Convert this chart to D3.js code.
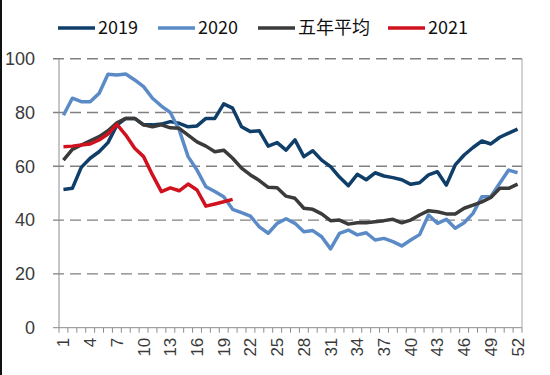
<!DOCTYPE html>
<html>
<head>
<meta charset="utf-8">
<script src="https://cdn.jsdelivr.net/npm/d3@7"></script>
<style>
  body { margin: 0; background: #fff; }
  svg { display: block; }
</style>
</head>
<body>
<div id="chart"></div>
<script>
// weeks 1..52
const weeks = d3.range(1, 53)
const xTickLabels = ['1', '4', '7', '10', '13', '16', '19', '22', '25', '28', '31', '34', '37', '40', '43', '46', '49', '52']
const yTicks = [0, 20, 40, 60, 80, 100]

const seriesNames = ['2019', '2020', '五年平均', '2021']

const values2019 = [51.4, 51.8, 59.6, 63, 65.4, 68.8, 75.3, 77.8, 77.8, 75.4, 75.4, 75.7, 76.6, 76, 74.7, 75, 77.8, 77.8, 83.2, 81.6,
  74.7, 72.9, 73.2, 67.5, 68.8, 66, 69.8, 63.6, 65.8, 62.3, 59.9, 56, 52.8, 57, 55, 57.6, 56.4, 55.8, 55, 53.3,
  53.9, 56.8, 58, 53, 60.5, 64.2, 67, 69.4, 68.3, 70.8, 72.3, 73.8]
const values2020 = [79, 85.3, 84, 84, 87.1, 94.2, 93.9, 94.3, 92.1, 89.6, 85.3, 82.4, 80, 73.5, 63.6, 58.6, 52.4, 50.6, 48.7, 44,
  42.8, 41.5, 37.5, 35.1, 38.8, 40.5, 38.8, 35.7, 36.1, 33.8, 29.3, 35.1, 36.3, 34.5, 35.3, 32.6, 33.2, 32, 30.4, 32.6,
  34.6, 41.9, 38.8, 40.3, 37, 39, 42.5, 48.7, 48.8, 53.7, 58.6, 57.6]
const valuesAvg = [62.3, 66.3, 67.9, 69.5, 71, 73.2, 76.2, 77.8, 77.8, 75.4, 74.7, 75.4, 74.3, 74.1, 71.6, 69.1, 67.5, 65.4, 66, 63,
  59.3, 56.8, 54.7, 52.2, 52, 48.9, 48.1, 44.4, 44, 42.3, 39.8, 40, 38.5, 39, 39, 39.4, 39.8, 40.3, 39, 40,
  41.9, 43.5, 43.1, 42.3, 42.3, 44.4, 45.6, 46.8, 48.4, 51.8, 51.8, 53.4]
const values2021 = [67.3, 67.5, 67.9, 68.3, 69.8, 72, 75.6, 71.6, 66.7, 63.6, 56.8, 50.6, 52, 50.9, 53.4, 51.2, 45.2, 46, 46.8, 47.7]

const seriesColors = ['#0f3e69', '#5b8bc6', '#3b3b3b', '#d0121f']
const seriesValues = [values2019, values2020, valuesAvg, values2021]

const width = 550
const height = 375
const plot = { l: 59, r: 522, t: 58.7, b: 327.7 }

const svg = d3.select('#chart').append('svg')
  .attr('width', width)
  .attr('height', height)

// black edge on the left side of the picture
svg.append('rect').attr('x', 0).attr('y', 0).attr('width', 2).attr('height', height).attr('fill', '#111')

const x = d3.scaleBand().domain(weeks).range([plot.l, plot.r]).padding(0)
const y = d3.scaleLinear().domain([0, 100]).range([plot.b, plot.t])
const cx = w => x(w) + x.bandwidth() / 2

// dashed gridlines (incl. outside tick)
svg.append('g').selectAll('line').data(yTicks.filter(d => d > 0)).enter()
  .append('line')
  .attr('x1', plot.l - 6).attr('x2', plot.r)
  .attr('y1', d => y(d)).attr('y2', d => y(d))
  .attr('stroke', '#808080')
  .attr('stroke-width', 1.4)
  .attr('stroke-dasharray', '11,6')

// y labels
svg.append('g').selectAll('text').data(yTicks).enter()
  .append('text')
  .attr('x', 35)
  .attr('y', d => y(d))
  .attr('dy', '0.35em')
  .attr('text-anchor', 'end')
  .attr('font-family', 'Liberation Sans, Arial, sans-serif')
  .attr('font-size', 18)
  .attr('fill', '#3a3a3a')
  .text(d => d)

// axes frame
svg.append('line').attr('x1', plot.l).attr('x2', plot.l).attr('y1', plot.t).attr('y2', plot.b)
  .attr('stroke', '#8c8c8c').attr('stroke-width', 1)
svg.append('line').attr('x1', plot.r).attr('x2', plot.r).attr('y1', plot.t).attr('y2', plot.b)
  .attr('stroke', '#a6a6a6').attr('stroke-width', 1)
svg.append('line').attr('x1', plot.l - 6).attr('x2', plot.r).attr('y1', y(0)).attr('y2', y(0))
  .attr('stroke', '#8c8c8c').attr('stroke-width', 1)

// x tick marks at category boundaries
const bounds = weeks.map(w => x(w)).concat([plot.r])
svg.append('g').selectAll('line').data(bounds).enter()
  .append('line')
  .attr('x1', d => d).attr('x2', d => d)
  .attr('y1', y(0)).attr('y2', y(0) + 5)
  .attr('stroke', '#8c8c8c').attr('stroke-width', 1)

// x labels (rotated)
svg.append('g').selectAll('text').data(xTickLabels).enter()
  .append('text')
  .attr('transform', d => 'translate(' + cx(+d) + ',' + (y(0) + 10) + ') rotate(-90)')
  .attr('dy', '0.35em')
  .attr('text-anchor', 'end')
  .attr('font-family', 'Liberation Sans, Arial, sans-serif')
  .attr('font-size', 17)
  .attr('fill', '#3a3a3a')
  .text(d => d)

// lines
const line = d3.line()
  .x((d, i) => cx(weeks[i]))
  .y(d => y(d))

seriesValues.forEach(function (vals, i) {
  svg.append('path')
    .datum(vals)
    .attr('d', line)
    .attr('fill', 'none')
    .attr('stroke', seriesColors[i])
    .attr('stroke-width', 3.5)
    .attr('stroke-linejoin', 'round')
})

// legend
const legendX = [58, 158, 258, 388]
const leg = svg.append('g').selectAll('g').data(seriesNames).enter()
  .append('g')
  .attr('transform', (d, i) => 'translate(' + legendX[i] + ',28)')
leg.append('line')
  .attr('x1', 0).attr('x2', 37).attr('y1', 0).attr('y2', 0)
  .attr('stroke', (d, i) => seriesColors[i])
  .attr('stroke-width', 3.5)
leg.append('text')
  .attr('x', 40)
  .attr('dy', '0.35em')
  .attr('font-family', 'Noto Sans CJK SC, Noto Sans, sans-serif')
  .attr('font-size', 18)
  .attr('fill', '#111')
  .text(d => d)
</script>
</body>
</html>
